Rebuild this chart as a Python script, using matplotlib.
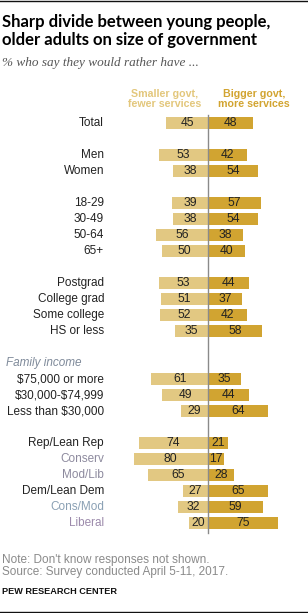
import matplotlib.pyplot as plt
import numpy as np

labels = ["Total", "", "Men", "Women", "", "18-29", "30-49", "50-64", "65+", "",
          "Postgrad", "College grad", "Some college", "HS or less", "",
          "Family income", "\\$75,000 or more", "\\$30,000-\\$74,999", "Less than \\$30,000", "",
          "Rep/Lean Rep", "Conserv", "Mod/Lib", "Dem/Lean Dem", "Cons/Mod", "Liberal"]
smaller = [45, None, 53, 38, None, 39, 38, 56, 50, None,
           53, 51, 52, 35, None,
           None, 61, 49, 29, None,
           74, 80, 65, 27, 32, 20]
bigger = [48, None, 42, 54, None, 57, 54, 38, 40, None,
          44, 37, 42, 58, None,
          None, 35, 44, 64, None,
          21, 17, 28, 65, 59, 75]

label_colors = {"Conserv": "#8d8a9e", "Mod/Lib": "#8d8a9e",
                "Cons/Mod": "#8aa0b4", "Liberal": "#9c8aab",
                "Family income": "#7f8a9a"}

light = "#e2c882"
dark = "#d1a431"

W, H = 308, 613
fig = plt.figure(figsize=(W / 100, H / 100), dpi=100)
ax = fig.add_axes([0, 0, 1, 1])
px = 0.93   # pixels per percentage point
cx = 208    # centre line position in pixels
row0, rowh = 123, 16
ax.set_xlim(-cx / px, (W - cx) / px)
ax.set_ylim((H - row0) / rowh, -row0 / rowh)
ax.axis("off")

font = "Liberation Sans"
for i, lab in enumerate(labels):
    if lab == "Family income":
        ax.text((6 - cx) / px, i, lab, ha="left", va="center", fontsize=8.5,
                style="italic", color=label_colors[lab], family=font)
    elif lab:
        ax.text((104 - cx) / px, i, lab, ha="right", va="center", fontsize=8.5,
                color=label_colors.get(lab, "#222222"), family=font)
    s, b = smaller[i], bigger[i]
    if s is None:
        continue
    ax.barh(i, -s, height=0.75, color=light, left=0)
    ax.barh(i, b, height=0.75, color=dark, left=0)
    ax.text(-s / 2, i, str(s), ha="center", va="center", fontsize=8.7,
            color="#222222", family=font)
    ax.text(b / 2, i, str(b), ha="center", va="center", fontsize=8.7,
            color="#222222", family=font)

ax.plot([0, 0], [-0.5, 25.6], color="#8a8a8a", lw=1)

def fy(y):
    return 1 - y / H

fig.text(2 / W, fy(27), "Sharp divide between young people,", fontsize=12,
         weight="bold", family="Lato", va="baseline")
fig.text(2 / W, fy(45), "older adults on size of government", fontsize=12,
         weight="bold", family="Lato", va="baseline")
fig.text(2 / W, fy(63), "% who say they would rather have ...", fontsize=9.5,
         style="italic", family="Liberation Serif", color="#555555", va="center")
fig.text(165 / W, fy(99), "Smaller govt,\nfewer services", fontsize=7.7, weight="bold",
         family=font, color="#e3c77c", ha="center", va="center", linespacing=1.1)
fig.text(254 / W, fy(99), "Bigger govt,\nmore services", fontsize=7.7, weight="bold",
         family=font, color="#d2a430", ha="center", va="center", linespacing=1.1)

fig.text(2 / W, fy(560), "Note: Don't know responses not shown.", fontsize=8.5,
         family=font, color="#8a8a8a", va="center")
fig.text(2 / W, fy(572), "Source: Survey conducted April 5-11, 2017.", fontsize=8.5,
         family=font, color="#8a8a8a", va="center")
fig.text(2 / W, fy(591), "PEW RESEARCH CENTER", fontsize=6.6, weight="bold",
         family=font, color="#111111", va="center")

fig.add_artist(plt.Line2D([0, 1], [fy(0.5), fy(0.5)], color="#111111", lw=1))
fig.add_artist(plt.Line2D([0, 1], [fy(612), fy(612)], color="#111111", lw=1))

fig.savefig("out.png", dpi=100)
